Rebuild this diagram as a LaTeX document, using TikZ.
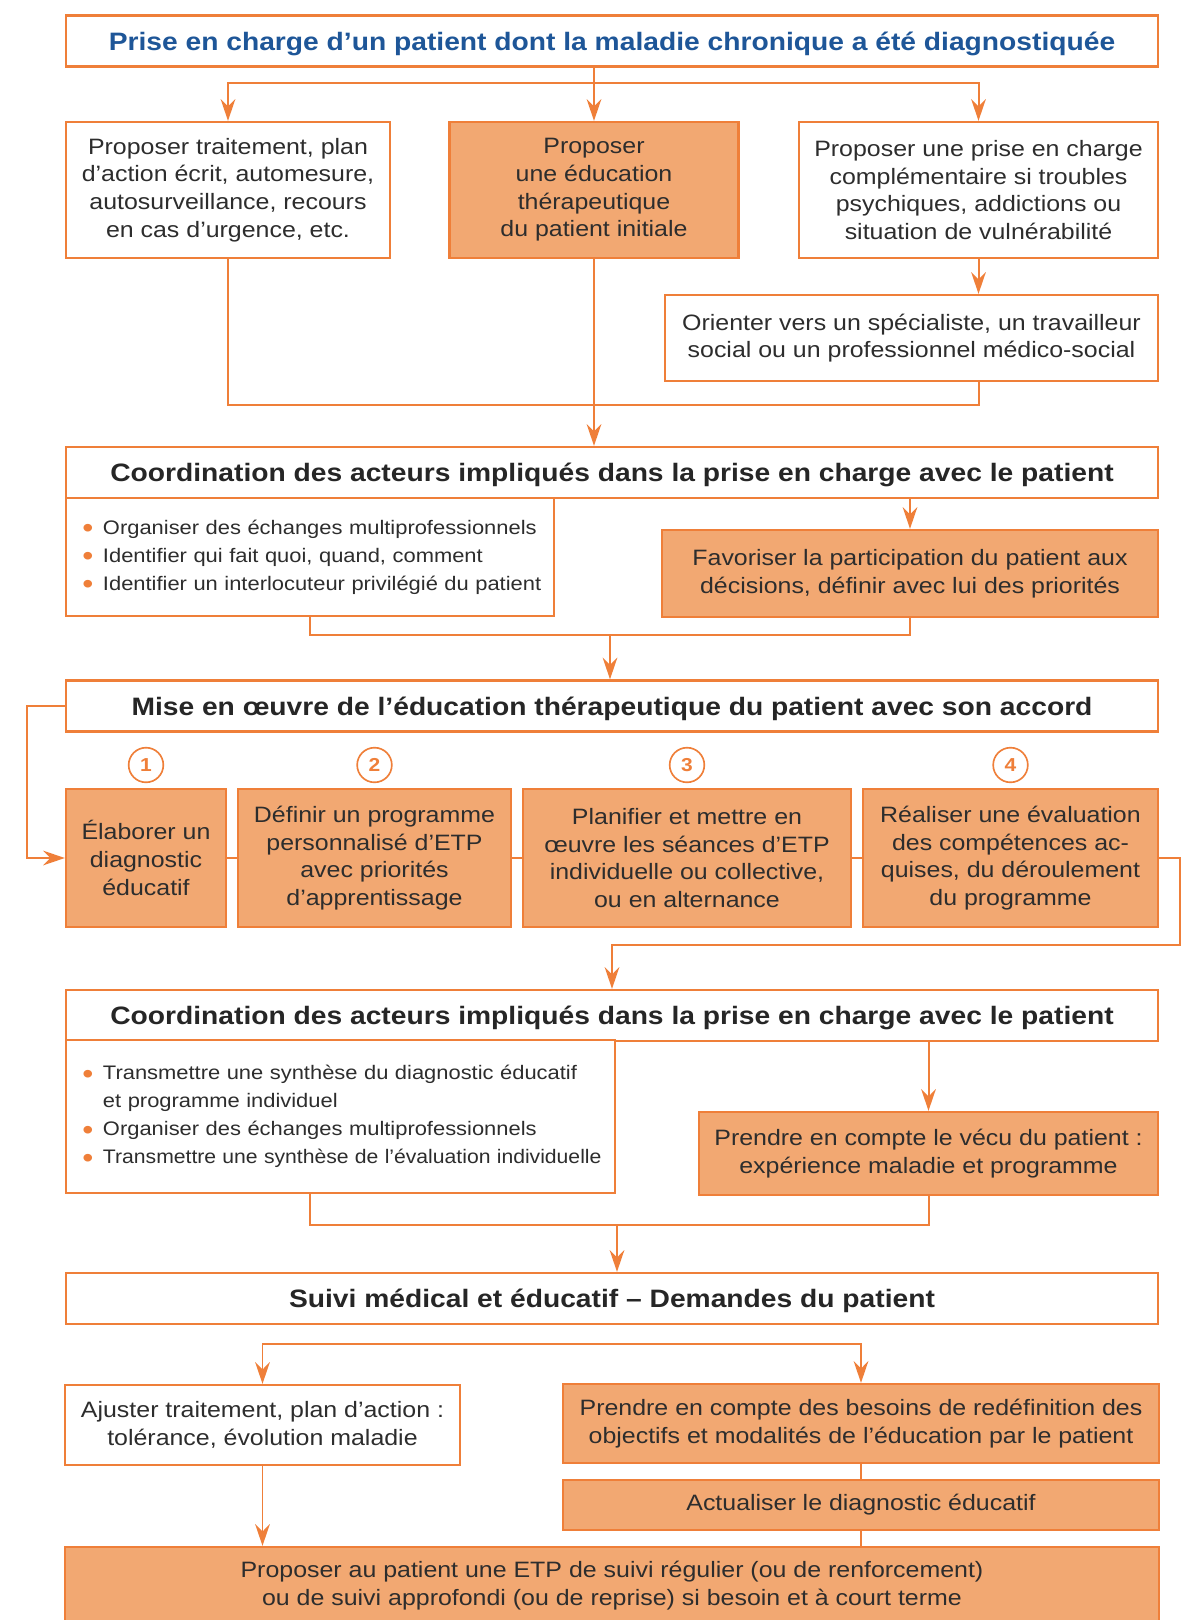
\documentclass[tikz,border=0pt]{standalone}
\usepackage{graphicx}
\usepackage{fontspec}
\setmainfont[FakeStretch=1.12]{Liberation Sans}
\usetikzlibrary{arrows.meta}

\definecolor{orangeline}{RGB}{239,127,57}
\definecolor{orangefill}{RGB}{242,168,114}
\definecolor{titleblue}{RGB}{30,86,152}
\definecolor{textgray}{RGB}{45,45,45}
\newcommand{\puce}{\makebox[9.6mm][l]{\hspace{3.4mm}\raisebox{-1.1mm}{\color{orangeline}\fontsize{24}{0}\selectfont\textbullet}}}
\newcommand{\retrait}{\hspace*{9.6mm}}

\begin{document}
\begin{tikzpicture}[
    x=0.3mm, y=-0.3mm,
    box/.style={draw=orangeline, line width=2pt, fill=white, text=textgray,
        font=\fontsize{19}{23.6}\selectfont, align=center, inner sep=0pt},
    boxfill/.style={box, fill=orangefill},
    header/.style={box, font=\fontsize{21.5}{26}\selectfont\bfseries,
        text=black!85, minimum width=327.6mm, minimum height=15.3mm,
        text height=15.4pt, text depth=0pt},
    liste/.style={box, font=\fontsize{16.7}{24}\selectfont, align=left,
        inner xsep=1.5mm},
    num/.style={circle, draw=orangeline, line width=1.4pt, fill=white,
        text=orangeline, font=\fontsize{16}{16}\selectfont\bfseries,
        minimum size=10.4mm, inner sep=0pt},
    link/.style={draw=orangeline, line width=1.7pt},
    arrowline/.style={link, -{Stealth[length=6.5mm, width=4.4mm, inset=2.2mm]}}
]
    \useasboundingbox (0,0) rectangle (1182,1620);
    \fill[white] (0,0) rectangle (1182,1620);

    % premiere prise en charge
    \node[header, text=titleblue] (title) at (612,41) {Prise en charge d'un patient dont la maladie chronique a été diagnostiquée};
    \node[box, minimum width=97.2mm, minimum height=40.8mm] (trait) at (228,190)
        {Proposer traitement, plan\\d'action écrit, automesure,\\autosurveillance, recours\\en cas d'urgence, etc.};
    \node[boxfill, minimum width=86.7mm, minimum height=40.8mm] (etp) at (594,190)
        {Proposer\\une éducation\\thérapeutique\\du patient initiale};
    \node[box, minimum width=107.7mm, minimum height=40.8mm] (compl) at (978.5,190)
        {Proposer une prise en charge\\complémentaire si troubles\\psychiques, addictions ou\\situation de vulnérabilité};
    \node[box, minimum width=147.9mm, minimum height=25.8mm] (orient) at (911.5,338)
        {Orienter vers un spécialiste, un travailleur\\social ou un professionnel médico-social};
    \coordinate (b1) at (594,83);
    \coordinate (j1) at (594,405);
    \draw[arrowline] (title.south -| etp.north) -- (etp.north);
    \draw[arrowline] (b1) -| (trait.north);
    \draw[arrowline] (b1) -| (compl.north);
    \draw[arrowline] (compl.south) -- (compl.south |- orient.north);
    \draw[link] (trait.south) |- (j1);
    \draw[link] (orient.south -| compl.south) |- (j1);

    % coordination 1
    \node[header] (coord1) at (612,472.5) {Coordination des acteurs impliqués dans la prise en charge avec le patient};
    \node[liste, minimum width=146.4mm, minimum height=35.4mm, text width=143.4mm] (list1) at (310,557)
        {\puce Organiser des échanges multiprofessionnels\\
         \puce Identifier qui fait quoi, quand, comment\\
         \puce Identifier un interlocuteur privilégié du patient};
    \node[boxfill, minimum width=148.8mm, minimum height=26.1mm] (favor) at (910,573.5)
        {Favoriser la participation du patient aux\\décisions, définir avec lui des priorités};
    \coordinate (j2) at (610,635);
    \draw[arrowline] (etp.south) -- (coord1.north -| etp.south);
    \draw[arrowline] (coord1.south -| favor.north) -- (favor.north);
    \draw[link] (list1.south) |- (j2);
    \draw[link] (favor.south) |- (j2);

    % mise en oeuvre
    \node[header] (mise) at (612,706) {Mise en œuvre de l'éducation thérapeutique du patient avec son accord};
    \node[boxfill, minimum width=48mm, minimum height=41.4mm] (s1) at (146,858)
        {Élaborer un\\diagnostic\\éducatif};
    \node[boxfill, minimum width=81.9mm, minimum height=41.4mm] (s2) at (374.5,858)
        {Définir un programme\\personnalisé d'ETP\\avec priorités\\d'apprentissage};
    \node[boxfill, minimum width=98.4mm, minimum height=41.4mm] (s3) at (687,858)
        {Planifier et mettre en\\œuvre les séances d'ETP\\individuelle ou collective,\\ou en alternance};
    \node[boxfill, minimum width=88.5mm, minimum height=41.4mm] (s4) at (1010.5,858)
        {Réaliser une évaluation\\des compétences ac-\\quises, du déroulement\\du programme};
    \node[num] (n1) at (146,765) {1};
    \node[num] (n2) at (374.5,765) {2};
    \node[num] (n3) at (687,765) {3};
    \node[num] (n4) at (1010.5,765) {4};
    \coordinate (loopL) at (27,706);
    \coordinate (loopR) at (1180,945);
    \draw[arrowline] (j2) -- (mise.north -| j2);
    \draw[arrowline] (mise.west) -- (loopL) |- (s1.west);
    \draw[link] (s1.east) -- (s2.west);
    \draw[link] (s2.east) -- (s3.west);
    \draw[link] (s3.east) -- (s4.west);

    % coordination 2
    \node[header] (coord2) at (612,1015.5) {Coordination des acteurs impliqués dans la prise en charge avec le patient};
    \node[liste, minimum width=164.7mm, minimum height=45.9mm, text width=161.7mm] (list2) at (340.5,1116.5)
        {\puce Transmettre une synthèse du diagnostic éducatif\\
         \retrait et programme individuel\\
         \puce Organiser des échanges multiprofessionnels\\
         \puce\scalebox{0.965}[1]{Transmettre une synthèse de l'évaluation individuelle}};
    \node[boxfill, minimum width=137.7mm, minimum height=24.9mm] (vecu) at (928.5,1153.5)
        {Prendre en compte le vécu du patient :\\expérience maladie et programme};
    \coordinate (j3) at (617,1225);
    \draw[arrowline] (s4.east) -| (loopR) -| (coord2.north);
    \draw[arrowline] (coord2.south -| vecu.north) -- (vecu.north);
    \draw[link] (list2.south -| list1.south) |- (j3);
    \draw[link] (vecu.south) |- (j3);

    % suivi
    \node[header] (suivi) at (612,1298.5) {Suivi médical et éducatif – Demandes du patient};
    \node[box, minimum width=118.5mm, minimum height=24mm] (ajust) at (262.5,1425)
        {Ajuster traitement, plan d'action :\\tolérance, évolution maladie};
    \node[boxfill, minimum width=178.8mm, minimum height=23.7mm] (besoin) at (861,1423.5)
        {Prendre en compte des besoins de redéfinition des\\objectifs et modalités de l'éducation par le patient};
    \node[boxfill, minimum width=178.8mm, minimum height=15mm] (actual) at (861,1505)
        {Actualiser le diagnostic éducatif};
    \node[boxfill, minimum width=328.2mm, minimum height=23.1mm] (final) at (612,1585.5)
        {Proposer au patient une ETP de suivi régulier (ou de renforcement)\\ou de suivi approfondi (ou de reprise) si besoin et à court terme};
    \coordinate (b2) at (560,1344);
    \draw[arrowline] (j3) -- (suivi.north -| j3);
    \draw[arrowline] (b2) -| (ajust.north);
    \draw[arrowline] (b2) -| (besoin.north);
    \draw[arrowline] (ajust.south) -- (final.north -| ajust.south);
    \draw[link] (besoin) -- (actual);
    \draw[link] (actual) -- (final.north -| actual.south);
\end{tikzpicture}
\end{document}
